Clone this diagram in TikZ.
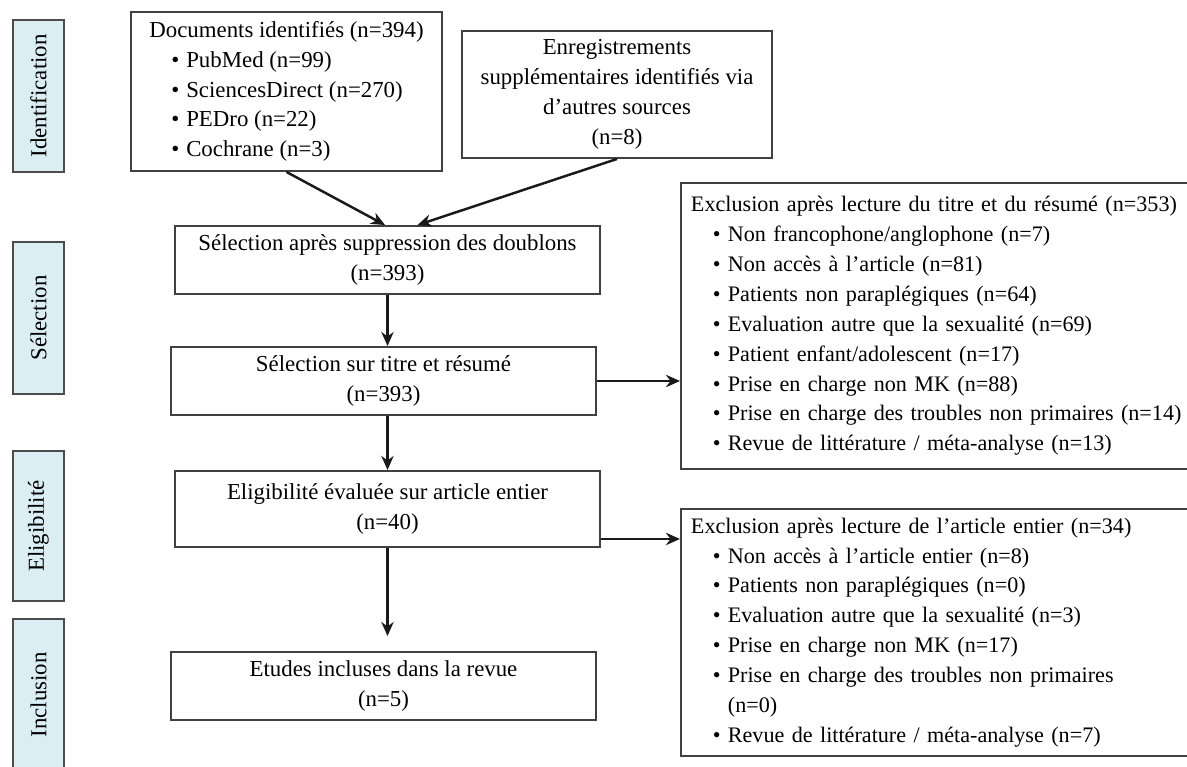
\documentclass[tikz,border=0pt]{standalone}
\usepackage{fontspec}
\setmainfont{Liberation Serif}
\usepackage{tikz}
\usetikzlibrary{arrows.meta}
\definecolor{stagefill}{RGB}{219,238,244}
\tikzset{t/.style={font=\fontsize{13}{17}\selectfont}}
\tikzset{ts/.style={font=\fontsize{12.6}{17}\selectfont}}
\tikzset{box/.style={t, draw=black!75, line width=1.1pt, inner sep=0pt}}
\tikzset{stage/.style={t, draw=black!70, line width=1.4pt, fill=stagefill, rotate=90,
  minimum width=3.04cm, minimum height=1.02cm, inner sep=0pt}}
\tikzset{excl/.style={box, ts, anchor=north west, align=left, text width=11cm, inner xsep=.2cm}}
\tikzset{arr/.style={-{Stealth[length=8pt,width=7pt]}, line width=1.4pt, black!90}}
\newcommand{\itm}[1]{\hspace*{12.5pt}\makebox[8.5pt][l]{\textbullet}#1}
\newcommand{\itmgo}[1]{\hspace*{21pt}#1}

\begin{document}
\begin{tikzpicture}
    \useasboundingbox (0,0) rectangle (23.74,-15.34);
    \clip (0,0) rectangle (23.74,-15.34);
    % stages
    \node[stage] (sid) at (0.77,-1.92) {Identification};
    \node[stage] (ssel) at (0.77,-6.36) {Sélection};
    \node[stage, minimum width=3cm] (selig) at (0.77,-10.52) {Eligibilité};
    \node[stage] (sincl) at (0.77,-13.9) {Inclusion};
    % main column
    \node[box, align=left, minimum width=6.22cm, minimum height=3.18cm] (docs) at (5.73,-1.83)
      {Documents identifiés (n=394)\\ \itm{PubMed (n=99)}\\ \itm{SciencesDirect (n=270)}\\
       \itm{PEDro (n=22)}\\ \itm{Cochrane (n=3)}};
    \node[box, align=center, minimum width=6.2cm, minimum height=2.54cm] (enreg) at (12.34,-1.89)
      {Enregistrements\\ supplémentaires identifiés via\\ d’autres sources\\ (n=8)};
    \node[box, align=center, minimum width=8.5cm, minimum height=1.36cm] (selA) at (7.75,-5.2)
      {Sélection après suppression des doublons\\ (n=393)};
    \node[box, align=center, minimum width=8.5cm, minimum height=1.36cm] (selT) at (7.67,-7.62)
      {Sélection sur titre et résumé\\ (n=393)};
    \node[box, align=center, minimum width=8.5cm, minimum height=1.52cm] (elig) at (7.75,-10.18)
      {Eligibilité évaluée sur article entier\\ (n=40)};
    \node[box, align=center, minimum width=8.5cm, minimum height=1.36cm] (incl) at (7.67,-13.72)
      {Etudes incluses dans la revue\\ (n=5)};
    % exclusions
    \node[excl, minimum height=5.72cm] (excl1) at (13.6,-3.64)
      {Exclusion après lecture du titre et du résumé (n=353)\\
       \itm{Non francophone/anglophone (n=7)}\\
       \itm{Non accès à l’article (n=81)}\\
       \itm{Patients non paraplégiques (n=64)}\\
       \itm{Evaluation autre que la sexualité (n=69)}\\
       \itm{Patient enfant/adolescent (n=17)}\\
       \itm{Prise en charge non MK (n=88)}\\
       \itm{Prise en charge des troubles non primaires (n=14)}\\
       \itm{Revue de littérature / méta-analyse (n=13)}};
    \node[excl, minimum height=4.94cm] (excl2) at (13.6,-10.16)
      {Exclusion après lecture de l’article entier (n=34)\\
       \itm{Non accès à l’article entier (n=8)}\\
       \itm{Patients non paraplégiques (n=0)}\\
       \itm{Evaluation autre que la sexualité (n=3)}\\
       \itm{Prise en charge non MK (n=17)}\\
       \itm{Prise en charge des troubles non primaires}\\
       \itmgo{(n=0)}\\
       \itm{Revue de littérature / méta-analyse (n=7)}};
    % arrows
    \draw[arr] (docs.south) -- ([xshift=-.05cm]selA.north);
    \draw[arr] (enreg.south) -- ([xshift=.6cm]selA.north);
    \draw[arr] (selA.south) -- (selA.south |- selT.north);
    \draw[arr] (selA.south |- selT.south) -- (selA.south |- elig.north);
    \draw[arr, shorten >=.3cm] (elig.south) -- (elig.south |- incl.north);
    \draw[arr] (selT.east) -- (selT.east -| excl1.west);
    \coordinate (eout) at ([yshift=.18cm]elig.south east);
    \draw[arr] (eout) -- (eout -| excl2.west);
\end{tikzpicture}
\end{document}
